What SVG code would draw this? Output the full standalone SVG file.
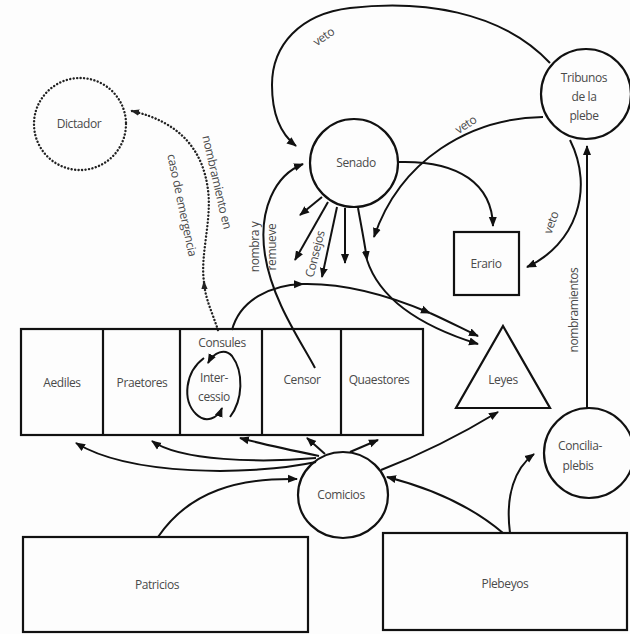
<svg xmlns="http://www.w3.org/2000/svg" width="630" height="634" viewBox="0 0 630 634">
<defs>
<style>
.ln{fill:none;stroke:#111;stroke-width:2}
.dot{fill:none;stroke:#222;stroke-width:2.4;stroke-dasharray:0.1 3.4;stroke-linecap:round}
.box{fill:none;stroke:#111;stroke-width:2.2}
.t{font-family:"Open Sans","Liberation Sans",sans-serif;font-size:12px;fill:#4a4a4a;text-anchor:middle;letter-spacing:-0.4px}
.ar{marker-end:url(#ah)}
</style>
<marker id="ah" markerUnits="userSpaceOnUse" markerWidth="10" markerHeight="10" viewBox="0 0 10 10" refX="9" refY="5" orient="auto">
<path d="M0,1 L10,5 L0,9 Z" fill="#111"/>
</marker>
<marker id="ahd" markerUnits="userSpaceOnUse" markerWidth="9" markerHeight="9" viewBox="0 0 10 10" refX="8" refY="5" orient="auto">
<path d="M0,1.5 L10,5 L0,8.5 Z" fill="#222"/>
</marker>
</defs>
<rect width="630" height="634" fill="#fdfdfd"/>

<g id="connectors">
<!-- veto arcs from Tribunos -->
<path class="ln ar" d="M550,63 C500,10 420,0 350,8 C300,14 272,45 272,85 C272,115 282,135 296,146"/>
<path class="ln ar" d="M543,117 C470,118 400,160 374,237"/>
<path class="ln ar" d="M570,140 C595,190 575,245 527,267"/>
<!-- Senado to Erario -->
<path class="ln ar" d="M398,162 C460,160 492,185 493,226"/>
<!-- Senado consejos -->
<path class="ln ar" d="M322,197 L300,215"/>
<path class="ln ar" d="M328,202 L295,260"/>
<path class="ln ar" d="M337,207 L322,277"/>
<path class="ln ar" d="M345,208 L345,263"/>
<!-- Senado to Leyes -->
<path class="ln ar" d="M358,208 C362,230 365,245 367,260"/>
<path class="ln ar" d="M367,260 C380,300 420,326 478,344"/>
<!-- Consules to Leyes -->
<path class="ln ar" d="M232,330 C240,300 270,285 303,284"/>
<path class="ln ar" d="M303,284 C350,283 395,298 430,313"/>
<path class="ln ar" d="M430,313 C450,322 465,330 478,336"/>
<!-- nombra y remueve -->
<path class="ln ar" d="M315,368 C300,340 272,300 265,255 C258,210 275,175 303,164"/>
<!-- Dictador -->
<path class="dot" d="M218,330 C212,312 205,298 204,282" marker-end="url(#ahd)"/>
<path class="dot" d="M204,282 C200,255 212,220 208,190 C203,150 180,122 132,111" marker-end="url(#ahd)"/>
<!-- intercessio -->
<path class="ln ar" d="M204,358 C185,372 182,400 196,414 C206,424 218,418 222,408"/>
<path class="ln ar" d="M230,417 C243,400 244,372 232,356 C225,348 214,352 208,363"/>
<!-- Comicios to magistrates -->
<path class="ln ar" d="M316,462 C250,476 130,476 76,443"/>
<path class="ln ar" d="M316,458 C260,463 180,461 152,441"/>
<path class="ln ar" d="M319,456 C290,450 262,444 240,438"/>
<path class="ln ar" d="M325,454 L307,438"/>
<path class="ln ar" d="M350,452 L378,440"/>
<path class="ln ar" d="M381,470 C420,455 465,432 498,412"/>
<!-- Patricios / Plebeyos -->
<path class="ln ar" d="M158,537 C190,490 240,478 297,479"/>
<path class="ln ar" d="M503,533 C470,505 430,488 387,477"/>
<path class="ln ar" d="M510,533 C505,495 515,468 534,454"/>
<!-- nombramientos -->
<path class="ln ar" d="M587,408 L587,146"/>
</g>

<g id="labels">
<text class="t" transform="translate(326,40) rotate(-35)">veto</text>
<text class="t" transform="translate(468,128) rotate(-33)">veto</text>
<text class="t" transform="translate(555,224) rotate(-70)">veto</text>
<text class="t" transform="translate(319,255) rotate(-76)">Consejos</text>
<text class="t" transform="translate(259,247) rotate(-90)">nombra y</text>
<text class="t" transform="translate(276,247) rotate(-90)">remueve</text>
<text class="t" transform="translate(213,183) rotate(77)">nombramiento en</text>
<text class="t" transform="translate(178,206) rotate(78)">caso de emergencia</text>
<text class="t" transform="translate(578,310) rotate(-90)">nombramientos</text>
</g>

<g id="dictador">
<circle class="dot" cx="80" cy="124" r="46"/>
<text class="t" x="79" y="128">Dictador</text>
</g>
<g id="senado">
<circle class="box" cx="354" cy="163" r="44"/>
<text class="t" x="356" y="167">Senado</text>
</g>
<g id="tribunos">
<circle class="box" cx="586" cy="94" r="45"/>
<text class="t" x="584" y="82">Tribunos</text>
<text class="t" x="584" y="101">de la</text>
<text class="t" x="584" y="120">plebe</text>
</g>
<g id="erario">
<rect class="box" x="454" y="232" width="65" height="63"/>
<text class="t" x="486" y="268">Erario</text>
</g>
<g id="leyes">
<polygon class="box" points="503,326 550,408 456,408"/>
<text class="t" x="503" y="384">Leyes</text>
</g>
<g id="magistraturas">
<rect class="box" x="21" y="329" width="402" height="106"/>
<line class="box" x1="103" y1="329" x2="103" y2="435"/>
<line class="box" x1="180" y1="329" x2="180" y2="435"/>
<line class="box" x1="262" y1="329" x2="262" y2="435"/>
<line class="box" x1="341" y1="329" x2="341" y2="435"/>
</g>
<g id="aediles"><text class="t" x="62" y="387">Aediles</text></g>
<g id="praetores"><text class="t" x="142" y="387">Praetores</text></g>
<g id="consules">
<text class="t" x="222" y="347">Consules</text>
<text class="t" x="214" y="382">Inter-</text>
<text class="t" x="214" y="401">cessio</text>
</g>
<g id="censor"><text class="t" x="302" y="384">Censor</text></g>
<g id="quaestores"><text class="t" x="379" y="384">Quaestores</text></g>
<g id="comicios">
<ellipse class="box" cx="343" cy="495" rx="45" ry="43"/>
<text class="t" x="341" y="499">Comicios</text>
</g>
<g id="concilia">
<circle class="box" cx="589" cy="453" r="45"/>
<text class="t" x="580" y="450">Concilia-</text>
<text class="t" x="578" y="470">plebis</text>
</g>
<g id="patricios">
<rect class="box" x="23" y="537" width="285" height="95"/>
<text class="t" x="157" y="589">Patricios</text>
</g>
<g id="plebeyos">
<rect class="box" x="383" y="533" width="244" height="97"/>
<text class="t" x="505" y="588">Plebeyos</text>
</g>
</svg>
